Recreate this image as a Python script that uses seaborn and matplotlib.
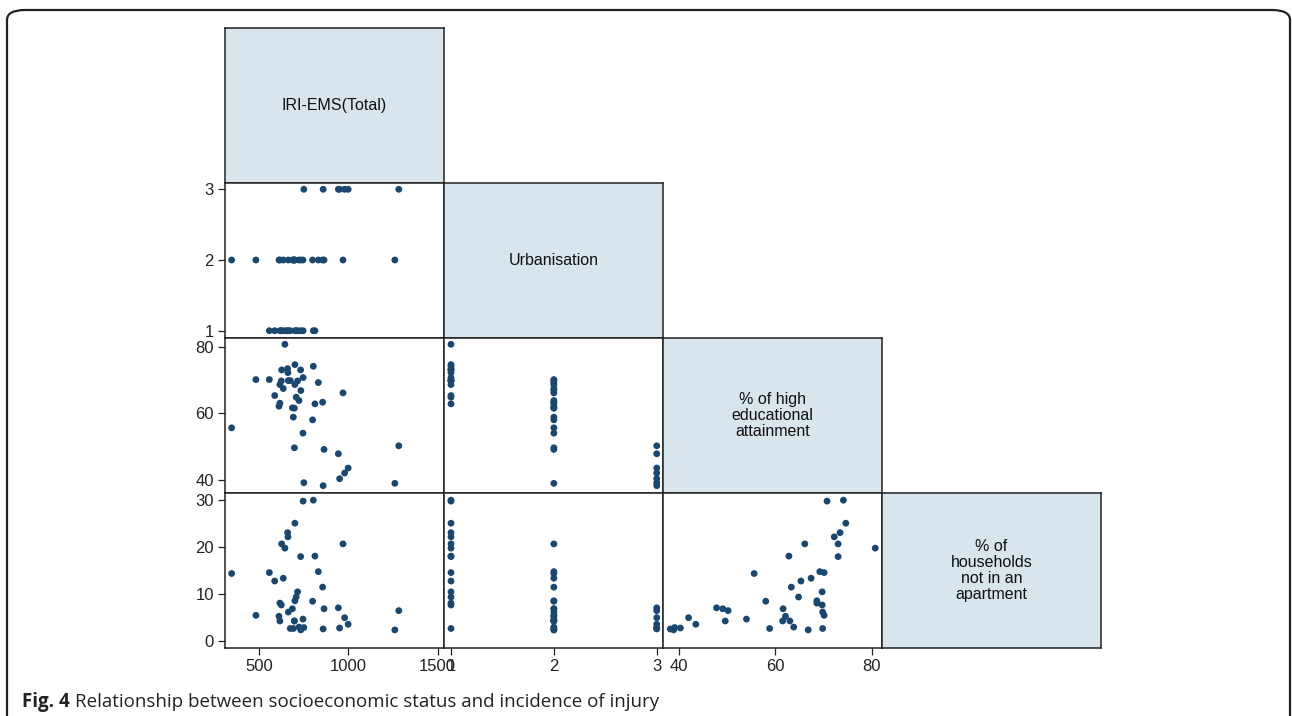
import numpy as np
import pandas as pd
import seaborn as sns
import matplotlib.pyplot as plt
from matplotlib.patches import FancyBboxPatch

# one row per district
iri = [347, 483, 558, 588, 612, 617, 617, 625, 627, 636, 645, 660, 662, 664, 675,
       687, 692, 698, 698, 701, 701, 708, 716, 724, 733, 734, 746, 747, 751, 800,
       804, 813, 832, 856, 859, 864, 944, 951, 970, 979, 999, 1260, 1282]
urban = [2, 2, 1, 1, 2, 1, 2, 1, 1, 2, 1, 1, 1, 2, 1,
         2, 2, 2, 2, 1, 2, 1, 1, 2, 1, 2, 2, 1, 3, 2,
         1, 1, 2, 2, 3, 2, 3, 3, 2, 3, 3, 2, 3]
edu = [55.6, 70.1, 70.1, 65.3, 62.1, 68.6, 63.0, 69.7, 73.0, 67.4, 80.7, 73.4, 72.2, 69.8, 69.8,
       61.6, 58.8, 61.5, 49.6, 74.6, 68.6, 64.8, 69.7, 63.8, 73.0, 66.8, 54.0, 70.7, 39.1, 58.0,
       74.1, 62.8, 69.2, 63.3, 38.2, 49.1, 47.8, 40.3, 66.1, 42.0, 43.5, 38.9, 50.2]
house = [14.3, 5.4, 14.5, 12.7, 5.2, 8.0, 4.2, 7.6, 20.6, 13.3, 19.7, 23.0, 22.1, 6.1, 2.6,
         6.8, 2.6, 4.2, 4.2, 25.0, 8.5, 9.3, 10.4, 2.9, 17.9, 2.3, 4.6, 29.7, 2.8, 8.4,
         29.9, 18.0, 14.7, 11.4, 2.5, 6.8, 7.0, 2.7, 20.6, 4.9, 3.5, 2.3, 6.4]

names = ["IRI-EMS(Total)", "Urbanisation", "% of high\neducational\nattainment",
         "% of\nhouseholds\nnot in an\napartment"]
cols = ["iri", "urban", "edu", "house"]
ticks = [[500, 1000, 1500], [1, 2, 3], [40, 60, 80], [0, 10, 20, 30]]
lims = [(310, 1535), (0.932, 3.061), (36.7, 82.1), (-1.55, 31.43)]
ylims = [None, (0.897, 3.089), (36.0, 82.6), (-1.55, 31.43)]

df = pd.DataFrame({"iri": iri, "urban": urban, "edu": edu, "house": house})

sns.set_style("ticks")
plt.rcParams["font.family"] = ["Liberation Sans", "DejaVu Sans"]

W, H = 1292, 716
fig = plt.figure(figsize=(W / 100, H / 100), dpi=100)

navy = "#1a476f"
boxcol = "#d9e5ec"
x0, y0, cw, ch = 225, 28, 219, 155

for i in range(4):
    for j in range(i + 1):
        left = (x0 + j * cw) / W
        bottom = 1 - (y0 + (i + 1) * ch) / H
        ax = fig.add_axes([left, bottom, cw / W, ch / H])
        for sp in ax.spines.values():
            sp.set_visible(True)
            sp.set_color("#222222")
            sp.set_linewidth(1.1)
        if i == j:
            ax.set_facecolor(boxcol)
            ax.set_xticks([])
            ax.set_yticks([])
            ax.text(0.5, 0.5, names[i], ha="center", va="center", fontsize=11.5,
                    color="#111111", linespacing=1.07, transform=ax.transAxes)
            continue
        sns.scatterplot(data=df, x=cols[j], y=cols[i], ax=ax, color=navy, s=24,
                        linewidth=0, edgecolor="none")
        ax.set_xlim(*lims[j])
        ax.set_ylim(*ylims[i])
        ax.set_xlabel("")
        ax.set_ylabel("")
        ax.tick_params(direction="out", length=5, width=0.9, color="#222222",
                       labelsize=12, labelcolor="#222222", pad=3,
                       bottom=(i == 3), left=(j == 0))
        if j == 0:
            ax.set_yticks(ticks[i])
        else:
            ax.set_yticks([])
        if i == 3:
            ax.set_xticks(ticks[j])
        else:
            ax.set_xticks([])

# rounded frame around the figure
frame = FancyBboxPatch((7 / W, -0.1), (1283 / W), 1 - 10 / H + 0.1,
                       boxstyle="round,pad=0,rounding_size=0.014",
                       transform=fig.transFigure, fill=False,
                       edgecolor="#222222", linewidth=1.6)
fig.patches.append(frame)

cap_font = ["Open Sans", "DejaVu Sans"]
t1 = fig.text(22 / W, 1 - 707 / H, "Fig. 4", fontsize=13.5, fontweight="bold",
              family=cap_font, color="#222222", va="baseline")
fig.canvas.draw()
bb = t1.get_window_extent()
fig.text((bb.x1 + 5) / W, 1 - 707 / H,
         "Relationship between socioeconomic status and incidence of injury",
         fontsize=13.5, family=cap_font, color="#222222", va="baseline")

fig.savefig("out.png", dpi=100)
